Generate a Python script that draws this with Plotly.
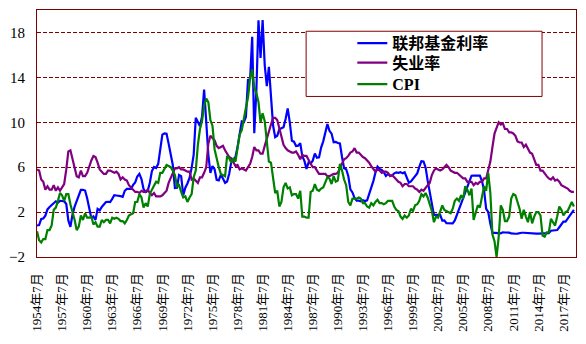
import pandas as pd
import plotly.graph_objects as go

# Quarterly samples (Jan/Apr/Jul/Oct), starting 1954-07
start_date = "1954-07-01"

fed_funds = [
    0.80, 0.85,
    1.39, 1.43, 1.68, 2.24,
    2.45, 2.62, 2.75, 2.96,
    2.84, 3.00, 2.99, 2.96,
    2.72, 1.26, 0.68, 1.80,
    2.48, 2.96, 3.47, 3.98,
    3.99, 3.92, 3.23, 2.47,
    1.45, 1.62, 1.31, 2.29,
    2.15, 2.46, 2.71, 2.90,
    2.92, 2.90, 3.18, 3.50,
    3.48, 3.47, 3.42, 3.36,
    3.90, 4.07, 4.10, 4.07,
    4.42, 4.65, 5.17, 5.40,
    4.94, 4.05, 3.79, 3.88,
    4.61, 5.65, 6.02, 5.92,
    6.30, 7.41, 8.90, 9.00,
    8.98, 8.10, 7.16, 6.20,
    4.14, 4.16, 5.31, 5.20,
    3.50, 4.17, 4.55, 5.04,
    5.94, 7.12, 10.40, 10.01,
    9.65, 10.51, 12.92, 10.06,
    7.13, 5.49, 6.10, 5.82,
    4.87, 4.82, 5.31, 5.00,
    4.61, 4.73, 5.42, 6.47,
    6.70, 6.90, 7.81, 8.96,
    10.07, 10.01, 10.47, 13.77,
    13.82, 17.61, 9.03, 12.81,
    19.08, 15.72, 19.10, 15.08,
    13.22, 14.94, 12.59, 9.71,
    8.68, 8.80, 9.37, 9.48,
    9.56, 10.29, 11.23, 9.99,
    8.35, 8.27, 7.88, 7.92,
    8.14, 6.99, 6.56, 5.85,
    6.43, 6.33, 6.58, 7.22,
    6.83, 6.87, 7.75, 8.30,
    9.12, 9.84, 9.24, 8.99,
    8.23, 8.26, 8.15, 8.11,
    6.91, 5.91, 5.82, 5.21,
    4.03, 3.75, 3.25, 3.02,
    3.02, 2.96, 3.06, 2.99,
    3.05, 3.56, 4.26, 4.76,
    5.53, 6.05, 5.85, 5.76,
    5.56, 5.22, 5.40, 5.24,
    5.25, 5.45, 5.54, 5.50,
    5.56, 5.45, 5.54, 5.07,
    4.63, 4.74, 4.99, 5.20,
    5.45, 6.02, 6.54, 6.51,
    5.98, 4.80, 3.77, 2.49,
    1.73, 1.75, 1.73, 1.75,
    1.24, 1.26, 1.01, 1.01,
    1.00, 1.00, 1.26, 1.76,
    2.28, 2.79, 3.26, 3.78,
    4.29, 4.79, 5.24, 5.25,
    5.25, 5.26, 5.26, 4.76,
    3.94, 2.28, 2.01, 0.97,
    0.15, 0.15, 0.16, 0.12,
    0.11, 0.20, 0.18, 0.19,
    0.17, 0.10, 0.07, 0.07,
    0.08, 0.14, 0.16, 0.16,
    0.14, 0.15, 0.09, 0.09,
    0.07, 0.09, 0.09, 0.09,
    0.11, 0.12, 0.13, 0.12,
    0.34, 0.37, 0.39, 0.40,
    0.65, 0.90, 1.15, 1.15,
    1.41, 1.69, 1.91, 2.19,
]

unemployment = [
    5.8, 5.7,
    4.9, 4.7, 4.0, 4.3,
    4.0, 4.0, 4.4, 3.9,
    4.2, 3.9, 4.2, 4.5,
    5.8, 7.4, 7.5, 6.7,
    6.0, 5.2, 5.1, 5.7,
    5.2, 5.2, 5.5, 6.1,
    6.6, 7.0, 6.9, 6.4,
    5.8, 5.6, 5.4, 5.4,
    5.7, 5.7, 5.6, 5.5,
    5.6, 5.4, 4.9, 5.1,
    4.9, 4.8, 4.4, 4.2,
    4.0, 3.8, 3.8, 3.7,
    3.9, 3.8, 3.8, 4.0,
    3.7, 3.5, 3.7, 3.4,
    3.4, 3.4, 3.5, 3.7,
    3.9, 4.6, 5.0, 5.5,
    5.9, 5.9, 6.0, 5.8,
    5.8, 5.7, 5.6, 5.6,
    4.9, 5.0, 4.8, 4.6,
    5.1, 5.1, 5.5, 6.0,
    8.1, 8.8, 8.6, 8.4,
    7.9, 7.7, 7.8, 7.9,
    7.5, 7.2, 6.9, 6.8,
    6.4, 6.1, 6.2, 5.8,
    5.9, 5.8, 5.7, 6.0,
    6.3, 6.9, 7.8, 7.5,
    7.5, 7.2, 7.2, 7.9,
    8.6, 9.3, 9.8, 10.4,
    10.4, 10.2, 9.4, 8.8,
    8.0, 7.7, 7.5, 7.4,
    7.3, 7.3, 7.4, 7.1,
    6.7, 7.1, 7.0, 7.0,
    6.6, 6.3, 6.0, 6.0,
    5.7, 5.4, 5.4, 5.4,
    5.4, 5.2, 5.2, 5.3,
    5.4, 5.4, 5.5, 5.9,
    6.4, 6.7, 6.8, 7.0,
    7.3, 7.4, 7.7, 7.3,
    7.3, 7.1, 6.9, 6.8,
    6.6, 6.4, 6.1, 5.8,
    5.6, 5.8, 5.7, 5.5,
    5.6, 5.6, 5.5, 5.2,
    5.3, 5.1, 4.9, 4.7,
    4.6, 4.3, 4.5, 4.5,
    4.3, 4.3, 4.3, 4.1,
    4.0, 3.8, 4.0, 3.9,
    4.2, 4.4, 4.6, 5.3,
    5.7, 5.9, 5.8, 5.7,
    5.8, 6.0, 6.2, 6.0,
    5.7, 5.6, 5.5, 5.5,
    5.3, 5.2, 5.0, 5.0,
    4.7, 4.7, 4.7, 4.4,
    4.6, 4.5, 4.7, 4.7,
    5.0, 5.0, 5.8, 6.5,
    7.8, 9.0, 9.5, 10.0,
    9.8, 9.9, 9.4, 9.4,
    9.1, 9.1, 9.0, 8.8,
    8.3, 8.2, 8.2, 7.8,
    8.0, 7.6, 7.3, 7.2,
    6.6, 6.2, 6.2, 5.7,
    5.7, 5.4, 5.2, 5.0,
    4.9, 5.1, 4.8, 4.9,
    4.7, 4.4, 4.3, 4.2,
    4.1, 3.9, 3.8, 3.8,
]

cpi = [
    0.3, -0.5,
    -0.7, -0.4, -0.4, 0.4,
    0.4, 0.8, 2.2, 2.4,
    3.0, 3.7, 3.5, 3.0,
    3.6, 3.6, 2.7, 2.1,
    1.3, 0.4, 0.7, 1.7,
    1.3, 1.9, 1.5, 1.5,
    1.6, 0.9, 1.1, 0.7,
    0.7, 1.3, 1.1, 1.3,
    1.3, 1.0, 1.5, 1.4,
    1.5, 1.4, 1.2, 1.2,
    1.0, 1.3, 1.7, 1.8,
    1.9, 2.9, 2.9, 3.6,
    3.3, 2.4, 2.8, 2.5,
    3.6, 4.0, 4.4, 4.7,
    4.6, 5.5, 5.5, 5.8,
    6.2, 6.1, 6.0, 5.7,
    5.3, 4.3, 4.4, 3.8,
    3.3, 3.4, 2.9, 3.3,
    3.6, 5.1, 5.7, 8.0,
    9.4, 10.1, 11.5, 12.1,
    11.8, 10.2, 9.7, 7.6,
    6.7, 6.0, 5.4, 5.3,
    5.2, 7.0, 6.8, 6.4,
    6.8, 6.5, 7.8, 8.9,
    9.3, 10.4, 11.3, 12.2,
    13.9, 14.7, 13.1, 12.6,
    11.8, 10.0, 10.8, 10.1,
    8.4, 6.5, 6.4, 5.0,
    3.7, 3.9, 2.5, 2.9,
    4.2, 4.6, 4.1, 4.2,
    3.5, 3.6, 3.6, 3.2,
    3.9, 1.6, 1.6, 1.5,
    1.5, 3.8, 3.9, 4.5,
    4.0, 3.9, 4.1, 4.2,
    4.7, 5.1, 5.0, 4.5,
    5.2, 4.7, 4.8, 6.3,
    5.7, 4.9, 4.4, 2.9,
    2.6, 3.2, 3.2, 3.2,
    3.3, 3.2, 2.8, 2.8,
    2.5, 2.4, 2.8, 2.6,
    2.9, 3.1, 2.8, 2.8,
    2.7, 2.8, 3.0, 3.0,
    3.0, 2.5, 2.2, 2.1,
    1.6, 1.4, 1.7, 1.5,
    1.7, 2.3, 2.1, 2.6,
    2.7, 3.0, 3.6, 3.4,
    3.7, 3.3, 2.7, 2.1,
    1.1, 1.6, 1.5, 2.0,
    2.6, 2.2, 2.1, 2.0,
    1.9, 2.3, 3.0, 3.2,
    3.0, 3.5, 3.2, 4.3,
    4.0, 3.5, 4.1, 1.3,
    2.1, 2.6, 2.4, 3.5,
    4.3, 3.9, 5.5, 3.7,
    0.0, -0.6, -2.0, -0.2,
    2.6, 2.2, 1.2, 1.2,
    1.6, 3.2, 3.6, 3.5,
    2.9, 2.3, 1.4, 2.2,
    1.6, 1.1, 2.0, 1.0,
    1.6, 2.0, 2.0, 1.7,
    -0.1, -0.2, 0.2, 0.2,
    1.4, 1.1, 0.8, 1.6,
    2.5, 2.2, 1.7, 2.0,
    2.1, 2.5, 2.9, 2.5,
]

series_names = ["联邦基金利率", "失业率", "CPI"]
series_colors = ["#0000FF", "#800080", "#008000"]

tick_dates = ["1954-07-01", "1957-07-01", "1960-07-01", "1963-07-01", "1966-07-01",
              "1969-07-01", "1972-07-01", "1975-07-01", "1978-07-01", "1981-07-01",
              "1984-07-01", "1987-07-01", "1990-07-01", "1993-07-01", "1996-07-01",
              "1999-07-01", "2002-07-01", "2005-07-01", "2008-07-01", "2011-07-01",
              "2014-07-01", "2017-07-01"]
tick_labels = ["1954年7月", "1957年7月", "1960年7月", "1963年7月", "1966年7月",
               "1969年7月", "1972年7月", "1975年7月", "1978年7月", "1981年7月",
               "1984年7月", "1987年7月", "1990年7月", "1993年7月", "1996年7月",
               "1999年7月", "2002年7月", "2005年7月", "2008年7月", "2011年7月",
               "2014年7月", "2017年7月"]
y_ticks = [-2, 2, 6, 10, 14, 18]

n = len(fed_funds)
assert n == len(unemployment) == len(cpi)
dates = pd.date_range(start_date, periods=n, freq="3MS")

legend_ids = ["legend", "legend2", "legend3"]
legend_rows_y = [0.8657, 0.7868, 0.6998]

grid_red = "#800000"
base_font = "Liberation Serif, Noto Sans CJK SC, serif"

fig = go.Figure()
for name, vals, col, lg in zip(series_names, [fed_funds, unemployment, cpi],
                               series_colors, legend_ids):
    fig.add_trace(go.Scatter(x=dates, y=vals, name=name, mode="lines",
                             line=dict(color=col, width=2.2), legend=lg))

legend_style = dict(
    x=0.585, xanchor="left", yanchor="middle",
    bgcolor="rgba(0,0,0,0)", borderwidth=0,
    font=dict(size=16, family=base_font, weight="bold", color="black"),
    itemwidth=30,
)

fig.update_layout(
    width=586, height=344,
    margin=dict(l=29.5, r=9.3, t=9.5, b=87.3),
    paper_bgcolor="white", plot_bgcolor="white",
    font=dict(family=base_font, size=13, color="black"),
    xaxis=dict(
        type="date", range=["1954-07-01", "2019-01-01"],
        tickmode="array", tickvals=tick_dates, ticktext=tick_labels,
        tickangle=-90, showgrid=False, zeroline=False,
        showline=True, linecolor=grid_red, linewidth=1, mirror=True,
        ticks="", tickfont=dict(size=13, family=base_font),
        ticklabelstandoff=10,
    ),
    yaxis=dict(
        range=[-2, 20], tickmode="array", tickvals=y_ticks,
        showgrid=True, gridcolor=grid_red, griddash="4px,2px", gridwidth=1,
        zeroline=False, showline=True, linecolor=grid_red, linewidth=1, mirror=True,
        ticks="", tickfont=dict(size=15, family=base_font),
        ticklabelstandoff=8,
    ),
    showlegend=True,
    legend=dict(y=legend_rows_y[0], **legend_style),
    legend2=dict(y=legend_rows_y[1], **legend_style),
    legend3=dict(y=legend_rows_y[2], **legend_style),
    shapes=[dict(type="rect", xref="paper", yref="paper",
                 x0=0.4993, x1=0.937, y0=0.650, y1=0.914,
                 line=dict(color=grid_red, width=1), fillcolor="white", layer="above")],
)

fig.write_html("out.html")
